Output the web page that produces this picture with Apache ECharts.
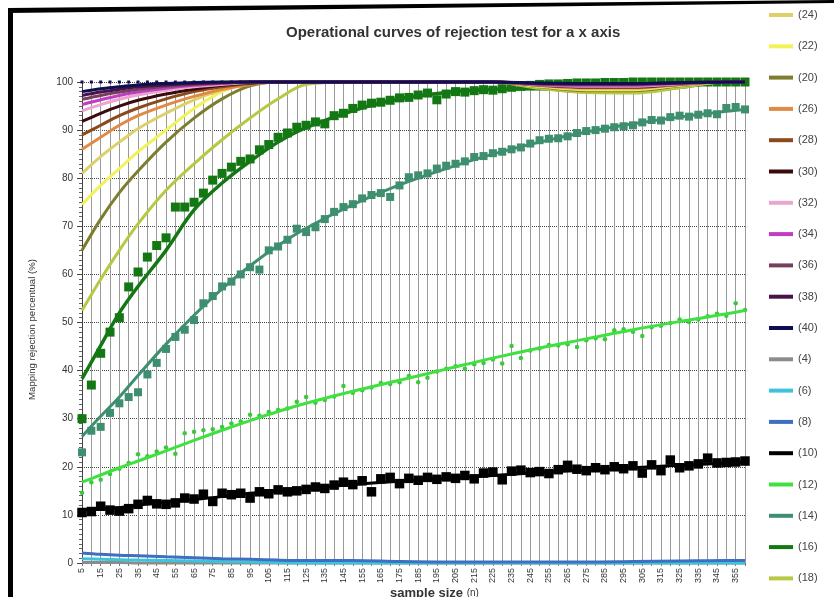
<!DOCTYPE html>
<html><head><meta charset="utf-8">
<script src="https://cdn.jsdelivr.net/npm/echarts@6/dist/echarts.min.js"></script>
<style>html,body{margin:0;padding:0;background:#fff}#c{width:834px;height:597px}</style>
</head><body><div id="c"></div>
<script>
// ---------- DATA ----------
const titleText = 'Operational curves of rejection test for a x axis';
const yName = 'Mapping rejection percentual (%)';
const xName = 'sample size';
const legendOrder = ['(24)','(22)','(20)','(26)','(28)','(30)','(32)','(34)','(36)','(38)','(40)','(4)','(6)','(8)','(10)','(12)','(14)','(16)','(18)'];

// sample sizes where the trend curves are read
const xTrend = [5,15,25,35,50,65,80,95,110,125,150,175,200,225,250,275,300,325,350,360];
// sample sizes of the measured points
const xMarks = [5,10,15,20,25,30,35,40,45,50,55,60,65,70,75,80,85,90,95,100,105,110,115,120,125,130,135,140,145,150,155,160,165,170,175,180,185,190,195,200,205,210,215,220,225,230,235,240,245,250,255,260,265,270,275,280,285,290,295,300,305,310,315,320,325,330,335,340,345,350,355,360];

// trend curves (values at xTrend)
const t40 = [98,98.6,99,99.4,99.7,99.9,100,100,100,100,100,100,100,100,99.8,99.7,99.7,99.9,100,100];
const t38 = [97.2,97.9,98.5,99,99.4,99.7,99.9,100,100,100,100,100,100,100,99.7,99.6,99.6,99.8,100,100];
const t36 = [96.4,97.2,97.9,98.5,99.1,99.5,99.8,100,100,100,100,100,100,100,99.6,99.5,99.5,99.8,100,100];
const t34 = [95.3,96.3,97.2,97.9,98.7,99.3,99.7,100,100,100,100,100,100,100,99.5,99.3,99.3,99.7,100,100];
const t32 = [94,95.3,96.4,97.3,98.3,99,99.5,99.9,100,100,100,100,100,100,99.4,99.1,99.1,99.6,100,100];
const t30 = [91.8,93.5,95,96.2,97.5,98.5,99.3,99.8,100,100,100,100,100,100,99.4,99,99,99.6,100,100];
const t28 = [89,91,93,94.6,96.5,98,99,99.7,100,100,100,100,100,100,99.3,98.9,98.9,99.5,100,100];
const t26 = [86,88.5,91,93,95.2,97,98.5,99.5,100,100,100,100,100,100,99.3,98.8,98.8,99.5,100,100];
const t24 = [81,84.5,87.5,90.3,93.5,96.3,98.3,99.6,100,100,100,100,100,100,99.2,98.6,98.6,99.4,100,100];
const t22 = [74.5,78.5,82,85.5,90,94.5,98,99.8,100,100,100,100,100,100,99.1,98.4,98.4,99.3,100,100];
const t20 = [65,71.5,77,81.5,87.5,92.5,96.5,99.2,100,100,100,100,100,100,99,98.2,98.2,99.2,100,100];
const t18 = [52.5,59,65,70.5,77.5,83,88,92.5,96.5,99.5,100,100,100,100,98.7,97.8,97.7,98.8,100,100];
const t16 = [38.3,45.2,52,57.5,65,73.4,79,83.5,87.5,90.5,94,96.5,97.8,98.5,98.6,98,98,98.9,100,100];
const t14 = [26.3,30.5,34.5,39,45.5,51.5,57,61.8,66,69.6,74.5,78.6,82,85,87.5,89.6,91.3,92.7,93.9,94.3];
const t12 = [16.8,18.3,19.8,21.2,23.3,25.5,27.6,29.6,31.5,33.2,35.7,38,40.3,42.6,44.7,46.6,48.5,50.2,51.8,52.5];
const t10 = [11,11.2,11.5,12,12.7,13.2,13.8,14.5,15,15.5,16.3,17,17.6,18.2,18.8,19.3,19.8,20.3,20.8,21];
const t8  = [2.1,1.8,1.6,1.5,1.3,1.1,0.9,0.8,0.6,0.5,0.5,0.3,0.2,0.2,0.2,0.2,0.3,0.4,0.5,0.5];
const t6  = [0.9,0.8,0.7,0.6,0.5,0.4,0.3,0.2,0.1,0,0,0,0,0,0,0,0,0,0,0];
const t4  = [0.1,0.1,0.1,0,0,0,0,0,0,0,0,0,0,0,0,0,0,0,0,0];

// measured points (values at xMarks)
const m16 = [30,37,43.6,48,51,57.4,60.5,63.6,66,67.6,74,74,75,76.9,79.6,81,82.3,83.5,84,85.9,87,88.5,89.4,90.6,91,91.7,91.3,93,93.5,94.5,95.2,95.6,95.8,96.2,96.7,96.8,97.3,97.7,96.3,97.5,98,97.9,98.2,98.4,98.3,98.6,98.9,99.1,99.3,99.5,99.6,99.6,99.7,99.8,99.8,99.8,99.9,99.9,99.9,100,100,100,100,100,100,100,100,100,100,100,100,100];
const m14 = [23,27.5,28.3,31.2,33.2,34.5,35.5,39.2,41.6,44.5,47,48.5,50.5,54,55.5,57.5,58.5,60,61.5,61,65,65.8,67.2,69.5,68.8,69.8,71.5,73,74,74.6,75.8,76.5,76.9,76.1,78.5,80.2,80.6,81,82,82.6,83,83.5,84.4,84.6,85.2,85.5,86,86.4,87.2,87.9,88.2,88.3,88.7,89.4,89.8,90,90.3,90.6,90.8,91,91.6,92.1,92,92.7,93,92.8,93.2,93.5,93.3,94.6,94.8,94.3];
const m12 = [14.6,16.8,17.3,18.5,19.6,20.8,22.6,22.2,23.2,24,22.7,27,27.3,27.6,27.8,28.3,29,29.4,30.8,30.6,31.4,31.8,32.1,33.5,34.5,33.3,33.9,34.6,36.8,35.4,35.9,36.5,37.4,37.2,37.6,38.9,37.6,38.5,39.8,40.4,40.9,40.4,41.3,41.6,42.3,41.5,45.1,42.6,44.2,44.6,45.3,45.2,45.5,44.9,46.3,46.7,46.5,48.4,48.6,48.1,47.2,49,49.3,49.9,50.6,50.1,50.6,51.3,51.8,51.4,54,52.6];
const m10 = [10.5,10.7,11.8,11,10.8,11.3,12.2,13,12.3,12.2,12.5,13.5,13.3,14.3,12.8,14.5,14.2,14.5,13.5,14.8,14.4,15.2,14.8,15,15.3,15.8,15.5,16.2,16.8,16.3,17.1,14.8,17.5,17.8,16.5,17.6,17.2,17.8,17.4,17.9,17.6,18.2,17.5,18.7,18.9,17.3,19.1,19.3,18.8,19,18.6,19.4,20.3,19.5,19.2,19.8,19.4,20,19.6,20.2,18.7,20.4,19.2,21.4,19.8,20.2,20.6,21.8,20.8,20.9,21,21.2];
const x40top = [5,10,15,20,25,30,35,40,45,50,55,60,65,70,75,80,85,90,95,100,105,110,115,120,125,130,135,140,145,150,155,160,165,170,175,180,185,190,195,200,205,210,215,220];
const m40top = [100,100,100,100,100,100,100,100,100,100,100,100,100,100,100,100,100,100,100,100,100,100,100,100,100,100,100,100,100,100,100,100,100,100,100,100,100,100,100,100,100,100,100,100];

// ---------- STYLE ----------
const colors = {'(24)':'#ddd06a','(22)':'#f2f25a','(20)':'#7d7d2e','(26)':'#e08a45','(28)':'#8a4a1c','(30)':'#3a0a0c','(32)':'#eaa6cf','(34)':'#c03cc0','(36)':'#75405e','(38)':'#4a124a','(40)':'#0e0e50','(4)':'#8c8c8c','(6)':'#3cc4dc','(8)':'#3f6fc0','(10)':'#000000','(12)':'#3fe03f','(14)':'#3e8f70','(16)':'#137813','(18)':'#b8c843'};

const pair = (xs, ys) => xs.map((x, i) => [x, ys[i]]);
function trend(name, ys, w) {
  return {name, type:'line', data: pair(xTrend, ys), smooth:0.35, showSymbol:false, clip:false,
    lineStyle:{color:colors[name], width:w||3}, itemStyle:{color:colors[name]}, emphasis:{disabled:true}};
}
function marks(name, xs, ys, sym, size, col) {
  return {name, type:'scatter', data: pair(xs, ys), symbol:sym, symbolSize:size, clip:false,
    itemStyle:{color:col||colors[name], opacity:1}, emphasis:{disabled:true}};
}

const series = [
  trend('(4)', t4, 3), trend('(6)', t6, 3), trend('(8)', t8, 3),
  trend('(10)', t10, 3), marks('(10)', xMarks, m10, 'rect', 9.5),
  trend('(12)', t12, 3), marks('(12)', xMarks, m12, 'circle', 4.5, '#3cc83c'),
  trend('(14)', t14, 3), marks('(14)', xMarks, m14, 'rect', 8),
  marks('(16)', xMarks, m16, 'rect', 9), trend('(16)', t16, 3.5),
  trend('(18)', t18, 3), trend('(20)', t20, 3), trend('(22)', t22, 3), trend('(24)', t24, 3),
  trend('(26)', t26, 3), trend('(28)', t28, 3), trend('(30)', t30, 3), trend('(32)', t32, 3),
  trend('(34)', t34, 3), trend('(36)', t36, 3), trend('(38)', t38, 3), trend('(40)', t40, 3),
  marks('(40)', x40top, m40top, 'rect', 3)
];

const chart = echarts.init(document.getElementById('c'), null, {renderer:'canvas'});
chart.setOption({
  animation:false,
  backgroundColor:'#fff',
  title:{text:titleText, left:281, top:20, textStyle:{fontFamily:'Liberation Sans', fontSize:15, fontWeight:'bold', color:'#333'}},
  legend:{orient:'vertical', left:769, top:8, padding:0, itemGap:17.3, itemWidth:24, itemHeight:4, icon:'rect',
    data:legendOrder, selectedMode:false,
    textStyle:{fontFamily:'Liberation Sans', fontSize:11, color:'#444', lineHeight:14, padding:[0,0,0,0]}},
  grid:{left:82, right:89, top:82, bottom:34, containLabel:false, outerBoundsMode:'none'},
  xAxis:{type:'value', min:5, max:360, interval:5,
    name:xName + ' {n|(n)}', nameLocation:'middle', nameGap:24, nameMoveOverlap:false,
    nameTextStyle:{fontFamily:'Liberation Sans', fontSize:13, fontWeight:'bold', color:'#333', padding:[0,0,0,42],
      rich:{n:{fontSize:10, fontWeight:'normal', color:'#333'}}},
    axisLine:{show:true, lineStyle:{color:'#777'}},
    axisTick:{show:true, length:3, lineStyle:{color:'#777'}},
    axisLabel:{rotate:90, fontSize:9, fontFamily:'Liberation Sans', color:'#333', margin:5,
      formatter:v => (v % 10 === 5 ? String(v) : '')},
    splitLine:{show:true, lineStyle:{color:'#9a9a9a', width:1}}},
  yAxis:{type:'value', min:0, max:100, interval:10,
    name:yName, nameLocation:'middle', nameGap:45, nameMoveOverlap:false,
    nameTextStyle:{fontFamily:'Liberation Sans', fontSize:9.6, color:'#333', padding:[0,14,0,0]},
    axisLine:{show:true, lineStyle:{color:'#444'}},
    axisTick:{show:true, length:5, lineStyle:{color:'#444'}},
    minorTick:{show:true, splitNumber:10, length:3, lineStyle:{color:'#666'}},
    axisLabel:{fontSize:10, fontFamily:'Liberation Sans', color:'#333', margin:9},
    splitLine:{show:true, lineStyle:{color:'#444', type:'dotted', width:1}}},
  graphic:[
    {type:'rect', shape:{x:8, y:8, width:5, height:589}, style:{fill:'#000'}, z:100},
    {type:'polygon', shape:{points:[[8,8],[834,0],[834,3],[8,13]]}, style:{fill:'#000'}, z:100}
  ],
  series
});
</script></body></html>
